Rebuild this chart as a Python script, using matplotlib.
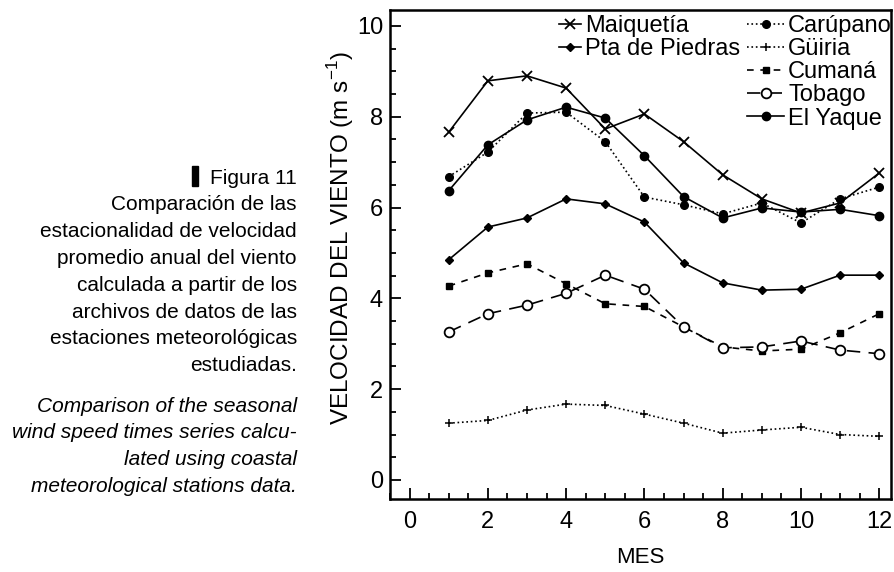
import matplotlib
matplotlib.use("Agg")
import matplotlib.pyplot as plt
from matplotlib.patches import Rectangle
from matplotlib.ticker import MultipleLocator

plt.rcParams['font.family'] = ['Liberation Sans', 'DejaVu Sans']

# monthly mean wind speed (m/s) per station
meses = [1, 2, 3, 4, 5, 6, 7, 8, 9, 10, 11, 12]
maiquetia = [7.66, 8.79, 8.9, 8.63, 7.73, 8.06, 7.45, 6.72, 6.19, 5.88, 6.1, 6.76]
pta_piedras = [4.85, 5.57, 5.77, 6.19, 6.08, 5.68, 4.78, 4.34, 4.18, 4.2, 4.51, 4.51]
carupano = [6.68, 7.22, 8.08, 8.1, 7.45, 6.23, 6.06, 5.86, 6.1, 5.66, 6.19, 6.45]
guiria = [1.25, 1.31, 1.54, 1.67, 1.64, 1.45, 1.25, 1.03, 1.1, 1.16, 1.0, 0.96]
cumana = [4.27, 4.56, 4.76, 4.32, 3.88, 3.82, 3.37, 2.93, 2.84, 2.88, 3.24, 3.66]
tobago = [3.26, 3.66, 3.85, 4.11, 4.51, 4.2, 3.37, 2.91, 2.93, 3.06, 2.86, 2.78]
el_yaque = [6.37, 7.38, 7.93, 8.21, 7.97, 7.14, 6.24, 5.77, 5.99, 5.9, 5.96, 5.82]

W, H = 895, 572
fig = plt.figure(figsize=(W / 100, H / 100), dpi=100)
ax = fig.add_axes([390 / W, 1 - 499 / H, 501 / W, 489 / H])

kw = dict(color='black', lw=1.2)
l1, = ax.plot(meses, maiquetia, '-', marker='x', ms=6.5, mew=1.3, label='Maiquetía', **kw)
l2, = ax.plot(meses, pta_piedras, '-', marker='D', ms=4.5, label='Pta de Piedras', **kw)
l3, = ax.plot(meses, carupano, ':', marker='o', ms=5.5, label='Carúpano', **kw)
l4, = ax.plot(meses, guiria, ':', marker='+', ms=6, mew=1.1, label='Güiria', **kw)
l5, = ax.plot(meses, cumana, '--', marker='s', ms=4.5, label='Cumaná', dashes=(4, 4), **kw)
l6, = ax.plot(meses, tobago, '--', marker='o', ms=7, mfc='white', mew=1.3, label='Tobago',
              dashes=(8, 5), **kw)
l7, = ax.plot(meses, el_yaque, '-', marker='o', ms=6, label='El Yaque', **kw)

ax.set_xlim(-0.5, 12.3)
ax.set_ylim(-0.42, 10.35)
ax.xaxis.set_major_locator(MultipleLocator(2))
ax.xaxis.set_minor_locator(MultipleLocator(0.5))
ax.yaxis.set_major_locator(MultipleLocator(2))
ax.yaxis.set_minor_locator(MultipleLocator(0.5))
ax.tick_params(which='both', direction='in', width=1.3, labelsize=17)
ax.tick_params(which='major', length=8)
ax.tick_params(which='minor', length=4)
ax.tick_params(axis='x', which='major', pad=9)
ax.tick_params(axis='y', which='major', pad=5)
for s in ax.spines.values():
    s.set_linewidth(1.8)

ax.set_xlabel('MES', fontsize=16, labelpad=10)
ax.set_ylabel('VELOCIDAD DEL VIENTO (m s$^{\\mathregular{-1}}$)', fontsize=17.5)
ax.yaxis.set_label_coords(-0.067, 0.533)

leg1 = ax.legend(handles=[l1, l2], loc='upper left', bbox_to_anchor=(0.338, 0.99),
                 frameon=False, fontsize=17, handlelength=0.9, handletextpad=0.2,
                 labelspacing=0.05, borderpad=0, borderaxespad=0)
ax.add_artist(leg1)
ax.legend(handles=[l3, l4, l5, l6, l7], loc='upper left', bbox_to_anchor=(0.712, 0.99),
          frameon=False, fontsize=17, handlelength=1.6, handletextpad=0.15,
          labelspacing=0.05, borderpad=0, borderaxespad=0)

# caption block on the left
cap_es = ['Figura 11', 'Comparación de las', 'estacionalidad de velocidad',
          'promedio anual del viento', 'calculada a partir de los',
          'archivos de datos de las', 'estaciones meteorológicas', 'estudiadas.']
cap_en = ['Comparison of the seasonal', 'wind speed times series calcu-',
          'lated using coastal', 'meteorological stations data.']
x_txt = 297 / W
dy = 26.8 / H
y0 = 1 - 178 / H
for i, t in enumerate(cap_es):
    fig.text(x_txt, y0 - i * dy, t, ha='right', va='center', fontsize=15)
y1 = 1 - 406 / H
for i, t in enumerate(cap_en):
    fig.text(x_txt, y1 - i * dy, t, ha='right', va='center', fontsize=15, style='italic')
fig.patches.append(Rectangle((192 / W, 1 - 186 / H), 6 / W, 20 / H,
                             transform=fig.transFigure, color='black'))

fig.savefig('out.png', dpi=100)
